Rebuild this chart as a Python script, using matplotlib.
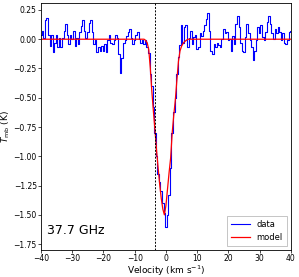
import numpy as np
import matplotlib
matplotlib.use("Agg")
import matplotlib.pyplot as plt
from matplotlib.ticker import MultipleLocator

# channel grid (km/s)
v_start = -40.0
v_step = 0.5

# observed spectrum T_mb (K), one value per channel
tmb = [
    0.04, 0.07, 0.01, 0.16, 0.18, 0.04, -0.06, 0.04, -0.11, -0.03,
    0.04, -0.07, 0.01, -0.07, 0.01, 0.07, 0.13, 0.04, -0.04, 0.04,
    0.00, 0.07, -0.06, 0.01, -0.04, 0.06, 0.11, 0.16, 0.07, 0.01,
    0.06, 0.14, 0.16, 0.06, -0.04, -0.01, -0.11, -0.07, -0.10, -0.06,
    -0.10, -0.04, -0.11, -0.01, 0.04, -0.03, -0.04, -0.01, 0.04, 0.01,
    -0.13, -0.29, -0.16, -0.03, -0.01, 0.03, 0.06, 0.09, 0.01, -0.04,
    -0.01, 0.04, 0.06, 0.00, -0.03, -0.01, -0.04, -0.01, -0.07, -0.12,
    -0.30, -0.40, -0.58, -0.80, -1.00, -1.15, -1.22, -1.30, -1.40, -1.48,
    -1.60, -1.50, -1.33, -1.10, -0.80, -0.62, -0.50, -0.30, -0.15, -0.05,
    0.12, -0.03, 0.10, 0.12, -0.07, 0.01, 0.07, -0.04, 0.02, 0.04,
    -0.08, -0.07, 0.05, 0.03, 0.07, 0.12, 0.17, 0.22, 0.07, -0.10,
    -0.13, -0.04, -0.07, -0.03, -0.05, -0.07, 0.00, 0.09, 0.05, 0.06,
    -0.01, 0.00, -0.10, 0.03, -0.04, 0.13, 0.20, 0.10, -0.03, -0.10,
    -0.11, 0.02, 0.13, 0.05, -0.01, -0.07, -0.18, -0.10, -0.01, 0.10,
    0.05, 0.12, 0.02, -0.01, 0.06, 0.15, 0.20, 0.13, 0.05, 0.00,
    0.09, 0.05, 0.10, 0.06, -0.01, 0.05, -0.03, -0.04, -0.01, 0.06,
    0.07,
]

# model profile
model_v = [-40.0, -7.0, -6.5, -6.0, -5.5, -5.0, -4.5, -4.0, -3.5, -3.0,
           -2.5, -2.0, -1.5, -1.0, -0.5, 0.0, 0.5, 1.0, 1.5, 2.0, 2.5, 3.0,
           3.5, 4.0, 4.5, 5.0, 5.5, 6.0, 6.5, 7.0, 40.0]
model_t = [0.0, 0.0, -0.01, -0.03, -0.09, -0.25, -0.45, -0.62, -0.78, -0.95,
           -1.10, -1.24, -1.36, -1.45, -1.50, -1.42, -1.28, -1.14, -1.015,
           -0.80, -0.65, -0.52, -0.35, -0.19, -0.10, -0.06, -0.035, -0.02,
           -0.01, 0.0, 0.0]

v_sys = -3.5
label_text = "37.7 GHz"

vel = v_start + v_step * np.arange(len(tmb))

fig = plt.figure(figsize=(2.99, 2.77), dpi=100)
ax = fig.add_axes([0.137, 0.0975, 0.836, 0.892])

ax.step(vel, tmb, where="mid", color="blue", lw=0.8, label="data")
ax.plot(model_v, model_t, color="red", lw=0.9, label="model")
ax.axvline(v_sys, color="black", ls="--", lw=0.7, dashes=(2, 1.5))

ax.set_xlim(-40, 40)
ax.set_ylim(-1.8, 0.31)
ax.yaxis.set_major_locator(MultipleLocator(0.25))
ax.xaxis.set_major_locator(MultipleLocator(10))

ax.tick_params(labelsize=5.5, length=2, width=0.5, pad=1)
for s in ax.spines.values():
    s.set_linewidth(0.6)

ax.set_xlabel("Velocity (km s$^{-1}$)", fontsize=6.5, labelpad=0.3)
ax.set_ylabel("$T_{\\rm mb}$ (K)", fontsize=6.5, labelpad=1)

ax.text(0.025, 0.08, label_text, transform=ax.transAxes, fontsize=9,
        va="center", ha="left")

leg = ax.legend(loc="lower right", fontsize=6, frameon=True, fancybox=False,
                edgecolor="0.6", handlelength=2.2, borderpad=0.5,
                labelspacing=0.4, handletextpad=0.8)
leg.get_frame().set_linewidth(0.5)

fig.savefig("out.png", dpi=100)
